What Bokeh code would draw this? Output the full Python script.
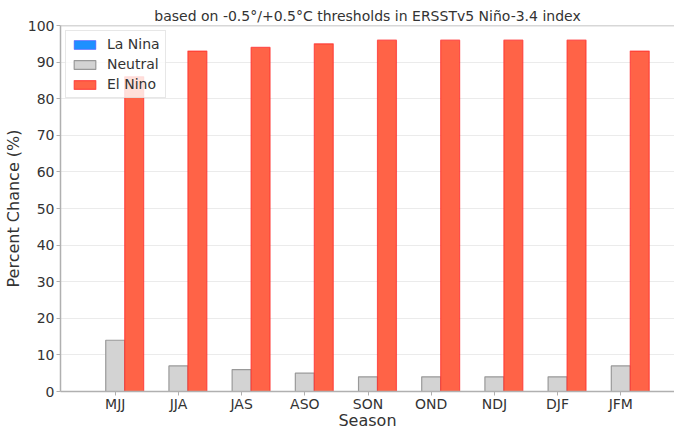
from bokeh.plotting import figure
from bokeh.models import Range1d, FixedTicker, Span, ColumnDataSource
from bokeh.embed import file_html
from bokeh.resources import INLINE

seasons = ["MJJ", "JJA", "JAS", "ASO", "SON", "OND", "NDJ", "DJF", "JFM"]
la_nina = [0, 0, 0, 0, 0, 0, 0, 0, 0]
neutral = [14, 7, 6, 5, 4, 4, 4, 4, 7]
el_nino = [86, 93, 94, 95, 96, 96, 96, 96, 93]
y_ticks = [0, 10, 20, 30, 40, 50, 60, 70, 80, 90, 100]

FONT = "DejaVu Sans"
idx = list(range(len(seasons)))
bw = 0.3

p = figure(width=674, height=432, output_backend="svg", toolbar_location=None,
           x_range=Range1d(-0.866, 8.85), y_range=Range1d(0, 100),
           min_border_left=60, min_border_right=0, min_border_top=25, min_border_bottom=41)

p.title.text = "based on -0.5\u00b0/+0.5\u00b0C thresholds in ERSSTv5 Ni\u00f1o-3.4 index"
p.title.align = "center"
p.title.text_font = FONT
p.title.text_font_size = "14px"
p.title.text_font_style = "normal"
p.title.text_color = "#333333"
p.title.standoff = 4

src = ColumnDataSource(dict(
    x_l=[i - bw for i in idx], x_n=idx, x_e=[i + bw for i in idx],
    la=la_nina, ne=neutral, el=el_nino))

p.vbar(x="x_l", top="la", bottom=0, width=bw, source=src,
       fill_color="#1e90ff", line_color="#4d4dff", line_alpha=0.6, legend_label="La Nina")
p.vbar(x="x_n", top="ne", bottom=0, width=bw, source=src,
       fill_color="#d3d3d3", line_color="#999999", line_width=1.2, legend_label="Neutral")
p.vbar(x="x_e", top="el", bottom=0, width=bw, source=src,
       fill_color="#ff6347", line_color="#ff2a2a", line_alpha=0.7, line_width=1.2, legend_label="El Nino")

p.outline_line_color = None
p.add_layout(Span(location=100, dimension="width", line_color="#b0b0b0", line_width=1.5))

p.xgrid.grid_line_color = None
p.ygrid.grid_line_color = "#ebebeb"
p.ygrid.ticker = FixedTicker(ticks=y_ticks)

p.xaxis.ticker = FixedTicker(ticks=idx)
p.xaxis.major_label_overrides = {i: s for i, s in zip(idx, seasons)}
p.yaxis.ticker = FixedTicker(ticks=y_ticks)

p.xaxis.axis_label = "Season"
p.yaxis.axis_label = "Percent Chance (%)"
for ax in (p.xaxis, p.yaxis):
    ax.axis_line_color = "#b0b0b0"
    ax.axis_line_width = 1.5
    ax.major_tick_line_color = "#b0b0b0"
    ax.major_tick_out = 4
    ax.major_tick_in = 0
    ax.minor_tick_line_color = None
    ax.major_label_standoff = 2
    ax.major_label_text_font = FONT
    ax.major_label_text_font_size = "14px"
    ax.major_label_text_color = "#333333"
    ax.axis_label_text_font = FONT
    ax.axis_label_text_font_size = "16px"
    ax.axis_label_text_font_style = "normal"
    ax.axis_label_text_color = "#333333"
    ax.axis_label_standoff = 0
p.xaxis.major_label_standoff = 0
p.xaxis.axis_label_standoff = -4
p.yaxis.axis_label_standoff = 2

lg = p.legend[0]
lg.location = "top_left"
lg.margin = 5
lg.padding = 5
lg.spacing = 4
lg.label_height = 16
lg.glyph_width = 27
lg.glyph_height = 11
lg.label_standoff = 9
lg.label_text_font = FONT
lg.label_text_font_size = "14px"
lg.label_text_color = "#333333"
lg.border_line_color = "#d0d0d0"
lg.background_fill_alpha = 0.8

open("out.html", "w").write(file_html(p, INLINE))
